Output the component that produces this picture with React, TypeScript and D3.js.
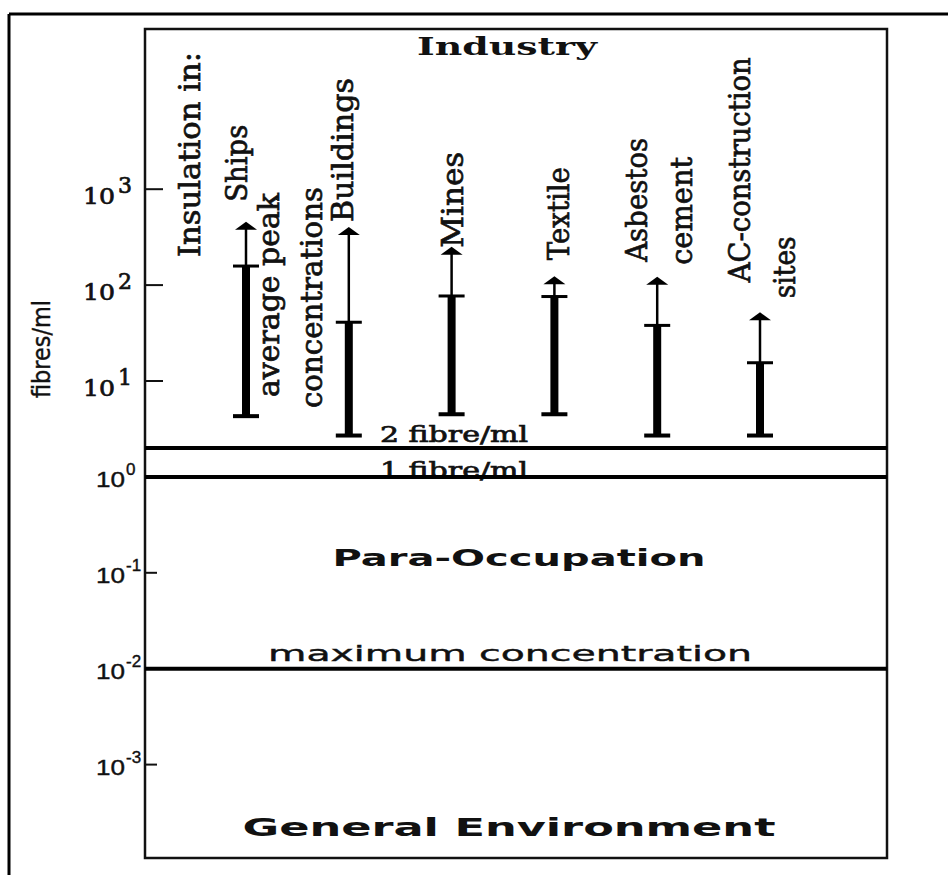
import React from "react";
import * as d3 from "d3";

// ---------- data ----------
const categories = ["Ships", "Buildings", "Mines", "Textile", "Asbestos cement", "AC-construction sites"];
const lowValues = [4.3, 2.7, 4.5, 4.5, 2.7, 2.7];
const averageValues = [158, 41, 77, 76, 38, 15.5];
const peakValues = [458, 403, 251, 124, 122, 52];
const labelLines = [["Ships"], ["Buildings"], ["Mines"], ["Textile"], ["Asbestos", "cement"], ["AC-construction", "sites"]];
const tickExponents = [3, 2, 1, 0, -1, -2, -3];
const lineValues = [2, 1, 0.01];
const lineLabels = ["2 fibre/ml", "1 fibre/ml", "maximum concentration"];
const zoneLabels = ["Industry", "Para-Occupation", "General Environment"];

// ---------- layout ----------
const W = 948;
const H = 875;
const box = { left: 145, top: 29, right: 887, bottom: 858 };
// label layout per category line: [dx from bar, gap above arrow tip, length]
const labelLayout = [
  [[1, 20, 77]],
  [[4, 5, 144]],
  [[11, -1, 96]],
  [[15, 16, 93]],
  [[-10, 15, 124], [35, 12, 108]],
  [[-10, 30, 225], [35, 14, 62]],
];

const SERIF = "'DejaVu Serif', serif";
const SANS = "'DejaVu Sans', sans-serif";
const INK = "#111";
const thick = { stroke: INK, strokeWidth: 0.7 };

export default function App() {
  const y = d3.scaleLog().domain([1e-3, 1e3]).range([764.6, 189.2]);
  const x = d3.scalePoint<string>().domain(categories).range([246, 760]);

  const bars = categories.map((c, i) => ({
    cx: x(c) as number,
    yLow: y(lowValues[i]),
    yAvg: y(averageValues[i]),
    yPeak: y(peakValues[i]),
    lines: labelLines[i],
    layout: labelLayout[i],
  }));

  const shipsX = x(categories[0]) as number;

  return (
    <svg
      width={W}
      height={H}
      viewBox={`0 0 ${W} ${H}`}
      style={{ position: "absolute", left: 0, top: 0, display: "block", background: "#fff" }}
    >
      <rect x={0} y={0} width={W} height={H} fill="#fff" />
      {/* outer frame */}
      <line x1={9} y1={14} x2={W} y2={14} stroke="#000" strokeWidth={3} />
      <line x1={9} y1={14} x2={9} y2={H} stroke="#000" strokeWidth={3} />

      {/* inner plot box */}
      <rect
        x={box.left}
        y={box.top}
        width={box.right - box.left}
        height={box.bottom - box.top}
        fill="none"
        stroke={INK}
        strokeWidth={2.5}
      />

      {/* y ticks */}
      {tickExponents.map((e) => {
        const v = Math.pow(10, e);
        const ty = y(v);
        const upper = e >= 1;
        return (
          <g key={e}>
            <line x1={box.left} x2={box.left + (upper ? 18 : 12)} y1={ty} y2={ty} stroke={INK} strokeWidth={2} />
            {upper ? (
              <g fontFamily={SERIF} fontSize={22} fill={INK} {...thick}>
                <text x={115} y={ty + 15} textAnchor="end" textLength={32} lengthAdjust="spacingAndGlyphs">10</text>
                <text x={118} y={ty + 4}>{String(e)}</text>
              </g>
            ) : (
              <g fontFamily="'Liberation Sans', sans-serif" fontSize={22} fill={INK} stroke={INK} strokeWidth={0.4}>
                <text x={125} y={ty + 10} textAnchor="end" textLength={29} lengthAdjust="spacingAndGlyphs">10</text>
                <text x={126} y={ty - 2} fontSize={17}>{e === 0 ? "0" : `-${-e}`}</text>
              </g>
            )}
          </g>
        );
      })}

      {/* y axis title */}
      <text
        transform={`translate(50,${398}) rotate(-90)`}
        fontFamily={SANS}
        fontSize={25}
        fill={INK}
        stroke={INK}
        strokeWidth={0.4}
        textLength={98}
        lengthAdjust="spacingAndGlyphs"
      >
        fibres/ml
      </text>

      {/* zone labels */}
      <text x={507} y={55} textAnchor="middle" fontFamily={SERIF} fontWeight="bold" fontSize={24} fill={INK} textLength={180} lengthAdjust="spacingAndGlyphs">
        {zoneLabels[0]}
      </text>
      <text x={519} y={566} textAnchor="middle" fontFamily={SANS} fontWeight="bold" fontSize={23} fill={INK} textLength={373} lengthAdjust="spacingAndGlyphs">
        {zoneLabels[1]}
      </text>
      <text x={509} y={836} textAnchor="middle" fontFamily={SANS} fontWeight="bold" fontSize={24} fill={INK} textLength={533} lengthAdjust="spacingAndGlyphs">
        {zoneLabels[2]}
      </text>

      {/* rotated annotation labels */}
      <text transform={`translate(${box.left + 55},257) rotate(-90)`} fontFamily={SERIF} fontSize={30} fill={INK} {...thick} textLength={205} lengthAdjust="spacingAndGlyphs">
        Insulation in:
      </text>
      <text transform={`translate(${shipsX + 33},397) rotate(-90)`} fontFamily={SERIF} fontSize={29} fill={INK} {...thick} textLength={204} lengthAdjust="spacingAndGlyphs">
        average peak
      </text>
      <text transform={`translate(${shipsX + 76},408) rotate(-90)`} fontFamily={SERIF} fontSize={29} fill={INK} {...thick} textLength={221} lengthAdjust="spacingAndGlyphs">
        concentrations
      </text>

      {/* reference line labels (drawn before lines) */}
      <text x={380} y={y(lineValues[0]) - 6} fontFamily={SERIF} fontSize={22} fill={INK} {...thick} textLength={148} lengthAdjust="spacingAndGlyphs">
        {lineLabels[0]}
      </text>
      <text x={380} y={y(lineValues[1]) + 1} fontFamily={SERIF} fontSize={22} fill={INK} {...thick} textLength={148} lengthAdjust="spacingAndGlyphs">
        {lineLabels[1]}
      </text>
      <text x={510} y={y(lineValues[2]) - 8} textAnchor="middle" fontFamily={SANS} fontSize={22} fill={INK} stroke={INK} strokeWidth={0.4} textLength={484} lengthAdjust="spacingAndGlyphs">
        {lineLabels[2]}
      </text>

      {/* reference lines */}
      {lineValues.map((v) => (
        <line key={v} x1={box.left} x2={box.right} y1={y(v)} y2={y(v)} stroke="#000" strokeWidth={4} />
      ))}

      {/* bars */}
      {bars.map((b, i) => (
        <g key={categories[i]}>
          <line x1={b.cx} x2={b.cx} y1={b.yAvg} y2={b.yPeak + 6} stroke="#000" strokeWidth={2.5} />
          <path d={`M${b.cx},${b.yPeak} L${b.cx - 11},${b.yPeak + 8} L${b.cx + 11},${b.yPeak + 8} Z`} fill="#000" />
          <rect x={b.cx - 4} y={b.yAvg} width={8} height={b.yLow - b.yAvg} fill="#000" />
          <rect x={b.cx - 13} y={b.yAvg - 1.5} width={26} height={3} fill="#000" />
          <rect x={b.cx - 13} y={b.yLow - 2} width={26} height={4} fill="#000" />
          {b.lines.map((t, j) => {
            const [dx, gap, len] = b.layout[j];
            return (
              <text
                key={t}
                transform={`translate(${b.cx + dx},${b.yPeak - gap}) rotate(-90)`}
                fontFamily={SERIF}
                fontSize={30}
                fill={INK}
                {...thick}
                textLength={len}
                lengthAdjust="spacingAndGlyphs"
              >
                {t}
              </text>
            );
          })}
        </g>
      ))}
    </svg>
  );
}
